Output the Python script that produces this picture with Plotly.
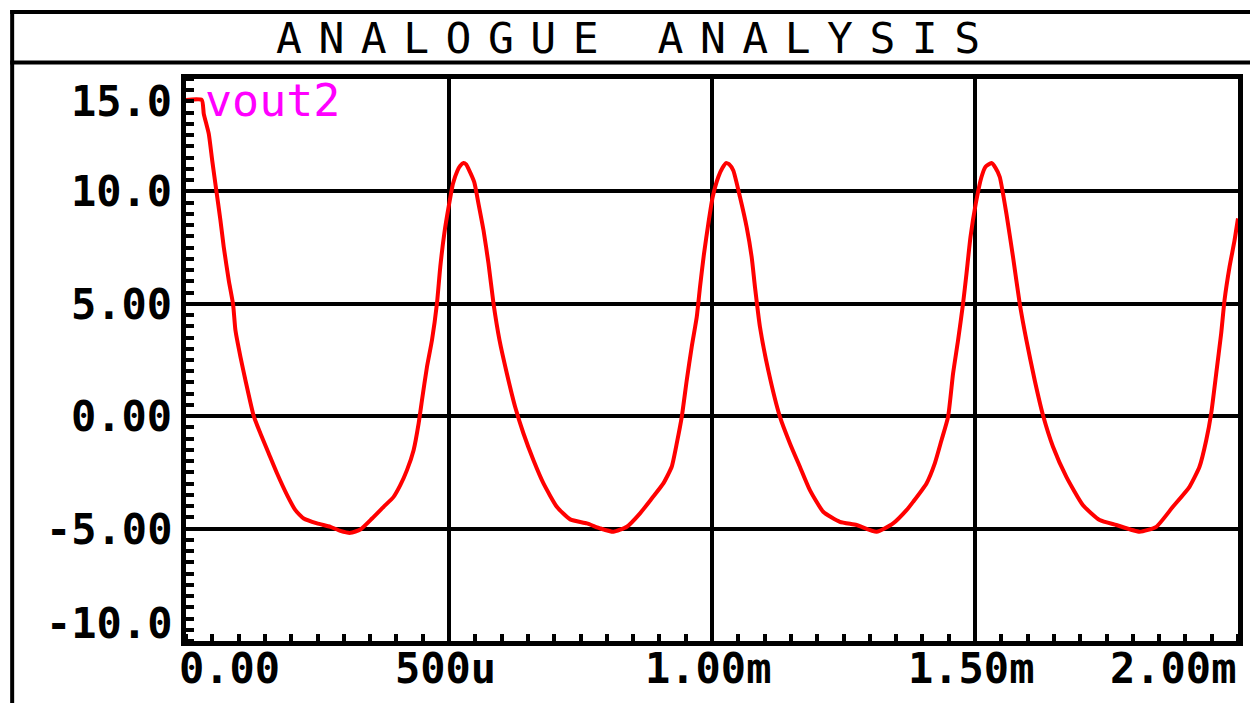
import plotly.graph_objects as go

# ---------------- data (time in microseconds, voltage in volts) ----------------
t_us = [0, 30, 33.8, 43.3, 49.8, 57.9, 65.5, 71.8, 81.3, 89.6, 94, 103.5, 113, 128.8, 141.5,
        157.3, 173.2, 192.2, 208, 223.8, 249.2, 274.5, 293.4, 312.5, 331.4, 353.7, 375.7, 394.7,
        407.4, 420.1, 432.7, 442.2, 448.6, 458.1, 467.6, 477.1, 483.4, 491, 499.2, 507.5, 516.2,
        521, 527.6, 532.6, 537.1, 548, 556.1, 565.6, 575.1, 584.6, 596, 610, 625.8, 641.6, 660.6,
        679.6, 705, 730.3, 762, 787.3, 812.5, 838, 863.2, 885.5,
        907.5, 923.4, 933, 942.5, 952, 961.4, 971, 977.2, 984.8, 993, 1001.3, 1012, 1020,
        1026.6, 1033, 1040.5, 1053.2, 1065.9, 1075.4, 1081.7, 1091.2, 1107, 1129.2, 1148.2,
        1167.1, 1186.1, 1211.4, 1243.1, 1274.8, 1312.8, 1344.3, 1369.8,
        1382.3, 1407.8, 1423.6, 1436.3, 1448.8, 1458.3, 1467.8, 1477.3, 1483.8, 1491.4, 1501.4,
        1512.3, 1520, 1531.3, 1539, 1547.1, 1559.7, 1572.3, 1585, 1597.7, 1613.5, 1629.3, 1648.3,
        1673.7, 1705.3, 1737, 1768.6, 1812.9, 1844.6, 1876.2, 1907.8, 1926.8, 1939.6, 1949, 1958.6,
        1968, 1974.4, 1983.9, 1993.4, 2000]
vout2 = [14.07, 14.07, 13.45, 12.56, 11.38, 10.0, 8.71, 7.52, 6.04, 4.96, 3.82, 2.64, 1.6, 0.0, -0.77,
         -1.66, -2.55, -3.51, -4.18, -4.55, -4.77, -4.92, -5.1, -5.19, -5.04, -4.55, -4.03, -3.59,
         -3.07, -2.4, -1.51, -0.33, 0.71, 2.19, 3.38, 5.01, 6.64, 8.12, 9.3, 10.34, 10.93,
         11.13, 11.26, 11.2, 11.0, 10.41, 9.45, 8.27, 6.79, 5.01, 3.38, 1.9, 0.41, -0.77, -1.96,
         -2.99, -4.03, -4.59, -4.77, -4.99, -5.14, -4.92, -4.32, -3.66,
         -2.99, -2.25, -1.21, -0.03, 1.6, 3.08, 4.41, 5.75, 7.23, 8.56, 9.75, 10.64, 11.05,
         11.26, 11.2, 10.93, 9.75, 8.41, 7.08, 5.75, 3.97, 2.04, -0.03, -1.21,
         -2.25, -3.29, -4.25, -4.7, -4.84, -5.14, -4.77, -4.18,
         -3.81, -2.99, -2.1, -1.07, -0.03, 1.9, 3.38, 5.01, 6.34, 7.97, 9.45,
         10.64, 11.1, 11.26, 11.05, 10.64, 9.01, 7.08, 5.01, 3.38, 1.6, 0.04, -1.36,
         -2.7, -3.96, -4.62, -4.84, -5.14, -4.92, -4.03, -3.14, -2.25, -1.07, 0.12, 1.9,
         3.68, 5.16, 6.64, 7.82, 8.8]

series_name = "vout2"
title_text = "ANALOGUE ANALYSIS"

y_tick_vals = [15, 10, 5, 0, -5, -10]
y_tick_labels = ["15.0", "10.0", "5.00", "0.00", "-5.00", "-10.0"]
x_tick_vals = [0, 500, 1000, 1500, 2000]
x_tick_labels = ["0.00", "500u", "1.00m", "1.50m", "2.00m"]

x_range = [0, 2000]
y_range = [-10, 15]

# ---------------- layout geometry (window pixels) ----------------
WIN_W, WIN_H = 1258, 703
OFF = 8                      # default page body margin
FIG_W, FIG_H = WIN_W - OFF, WIN_H - OFF
L, R, T, B = 185.5, 1238.5, 78.5, 641.0
W, H = R - L, B - T


def px(x):
    return (x - L) / W


def py(y):
    return (B - y) / H


FONT = "DejaVu Sans Mono"

fig = go.Figure()
fig.add_trace(go.Scatter(x=t_us, y=vout2, mode="lines", name=series_name,
                         line=dict(color="#FF0000", width=4, shape="spline", smoothing=0.5),
                         showlegend=False))

axis_common = dict(showline=True, linecolor="black", linewidth=5, mirror=True,
                   showgrid=True, gridcolor="black", gridwidth=4, zeroline=False,
                   ticks="", showticklabels=False, fixedrange=True)

fig.update_xaxes(range=x_range, tickmode="array", tickvals=x_tick_vals[1:-1],
                 minor=dict(tickmode="linear", tick0=0, dtick=50, ticks="inside",
                            ticklen=7, tickwidth=4, tickcolor="black", showgrid=False),
                 **axis_common)
fig.update_yaxes(range=y_range, tickmode="array", tickvals=y_tick_vals[1:-1],
                 minor=dict(tickmode="linear", tick0=0, dtick=0.5, ticks="inside",
                            ticklen=8, tickwidth=4, tickcolor="black", showgrid=False),
                 **axis_common)

annotations = []
# y tick labels
ppu = H / (y_range[1] - y_range[0])
for v, lab in zip(y_tick_vals, y_tick_labels):
    ypix = B - (v - y_range[0]) * ppu
    if v == y_range[1]:
        ypix += 22
    elif v == y_range[0]:
        ypix -= 18
    annotations.append(dict(text=lab, xref="paper", yref="paper", x=px(173), y=py(ypix + 0.5),
                            xanchor="right", yanchor="middle", showarrow=False,
                            font=dict(family=FONT, size=42, color="black", weight="bold")))
# x tick labels
ppx = W / (x_range[1] - x_range[0])
for v, lab in zip(x_tick_vals, x_tick_labels):
    xpix = L + (v - x_range[0]) * ppx
    if v == x_range[0]:
        anchor, xpix = "left", xpix - 9
    elif v == x_range[1]:
        anchor, xpix = "right", xpix
    else:
        anchor, xpix = "center", xpix - 4
    annotations.append(dict(text=lab, xref="paper", yref="paper", x=px(xpix), y=py(668.5),
                            xanchor=anchor, yanchor="middle", showarrow=False,
                            font=dict(family=FONT, size=42, color="black", weight="bold")))
# series label
annotations.append(dict(text=series_name, xref="paper", yref="paper", x=px(203), y=py(100.5),
                        xanchor="left", yanchor="middle", showarrow=False,
                        font=dict(family=FONT, size=45, color="#FF00FF")))
# title
annotations.append(dict(text='<span style="letter-spacing:16.5px">' + title_text + '</span>',
                        xref="paper", yref="paper", x=px(636), y=py(37.5),
                        xanchor="center", yanchor="middle", showarrow=False,
                        font=dict(family=FONT, size=43, color="black")))

shapes = [
    dict(type="line", xref="paper", yref="paper", x0=px(11.5), x1=px(11.5), y0=py(9.5), y1=py(720),
         line=dict(color="black", width=4)),
    dict(type="line", xref="paper", yref="paper", x0=px(9.5), x1=px(1290), y0=py(11.5), y1=py(11.5),
         line=dict(color="black", width=4)),
    dict(type="line", xref="paper", yref="paper", x0=px(9.5), x1=px(1290), y0=py(62), y1=py(62),
         line=dict(color="black", width=4)),
]

fig.update_layout(width=FIG_W, height=FIG_H,
                  margin=dict(l=L - OFF, r=WIN_W - R, t=T - OFF, b=WIN_H - B, pad=0),
                  paper_bgcolor="white", plot_bgcolor="white",
                  annotations=annotations, shapes=shapes, showlegend=False)

fig.write_html("out.html")
